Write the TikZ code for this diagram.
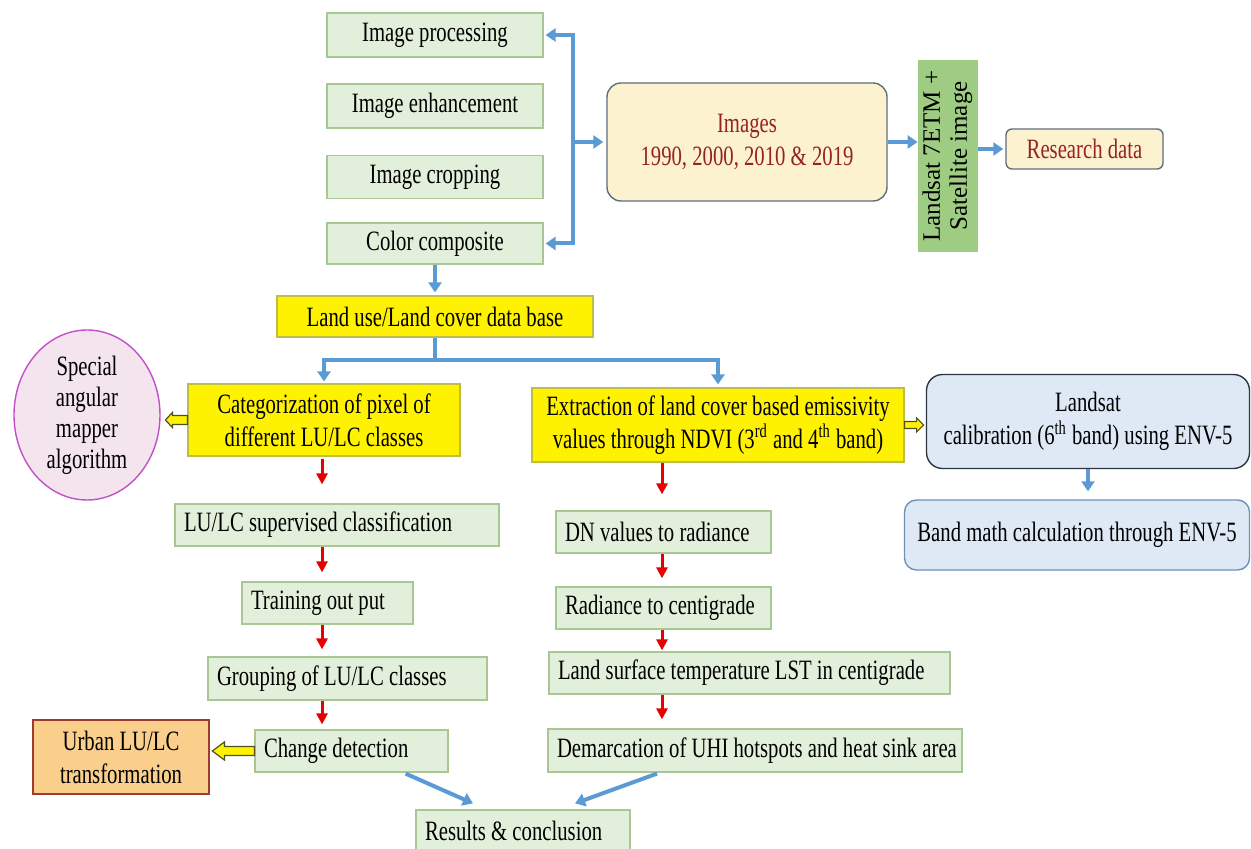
\documentclass[tikz,border=0pt]{standalone}
\usepackage{fontspec}
\setmainfont{Liberation Serif}[FakeStretch=0.74]
\newfontfamily\rotfont{Liberation Serif}
\usetikzlibrary{arrows.meta,calc,shapes.geometric}
\definecolor{gfill}{RGB}{226,239,218}
\definecolor{gline}{RGB}{169,199,148}
\definecolor{yline}{RGB}{190,190,70}
\definecolor{ifill}{RGB}{253,242,208}
\definecolor{iline}{RGB}{95,110,125}
\definecolor{dred}{RGB}{150,35,35}
\definecolor{lsgreen}{RGB}{157,204,130}
\definecolor{efill}{RGB}{243,228,238}
\definecolor{eline}{RGB}{195,80,200}
\definecolor{cfill}{RGB}{222,233,245}
\definecolor{cline}{RGB}{45,55,65}
\definecolor{bline2}{RGB}{110,145,185}
\definecolor{ofill}{RGB}{250,207,140}
\definecolor{oline}{RGB}{160,60,45}
\definecolor{bluearr}{RGB}{91,155,213}
\definecolor{redarr}{RGB}{230,0,0}
\definecolor{holline}{RGB}{80,80,30}
\newcommand{\lefttext}[2]{\makebox[#1][l]{#2}}
\tikzset{
  every node/.style={font=\fontsize{14}{16.5}\selectfont},
  gbox/.style={draw=gline, fill=gfill, line width=0.6pt, inner sep=0pt, align=center},
  lbox/.style={draw=gline, fill=gfill, line width=0.6pt, inner xsep=4.5pt, inner ysep=0pt},
  ybox/.style={draw=yline, fill=yellow, line width=0.6pt, inner sep=0pt, align=center},
  ibox/.style={draw=iline, fill=ifill, line width=0.7pt, inner sep=0pt, align=center, text=dred},
  lsbox/.style={fill=lsgreen, inner sep=0pt},
  ebox/.style={ellipse, draw=eline, fill=efill, line width=0.7pt, inner sep=0pt, align=center, font=\fontsize{14}{15.5}\selectfont},
  cbox/.style={draw=cline, fill=cfill, line width=0.7pt, inner sep=0pt, align=center},
  bbox/.style={draw=bline2, fill=cfill, line width=0.7pt, inner sep=0pt, align=center},
  obox/.style={draw=oline, fill=ofill, line width=0.8pt, inner sep=0pt, align=center},
  barrow/.style={draw=bluearr, line width=2pt, -{Triangle[length=5pt,width=6.5pt]}},
  bdbl/.style={draw=bluearr, line width=2pt, {Triangle[length=5pt,width=6.5pt]}-{Triangle[length=5pt,width=6.5pt]}},
  bline/.style={draw=bluearr, line width=2pt},
  rarrow/.style={draw=redarr, line width=1.5pt, -{Triangle[length=5.5pt,width=5.5pt]}},
  holstyle/.style={draw=holline, fill=yellow, line width=0.6pt, line join=miter},
  pics/hollowarrow/.style n args={4}{code={
    \draw[holstyle] (0,-#4) -- (-#1+#2,-#4) -- (-#1+#2,-#3) -- (-#1,0) -- (-#1+#2,#3) -- (-#1+#2,#4) -- (0,#4) -- cycle;
  }}
}
\begin{document}
\begin{tikzpicture}[x=0.5pt,y=-0.5pt]
\useasboundingbox (0,0) rectangle (1251,849);
\fill[white] (0,0) rectangle (1251,849);

% top left stack
\node[gbox, minimum width=108pt, minimum height=22pt] (ip) at (435,35) {Image processing};
\node[gbox, minimum width=108pt, minimum height=22pt] (ie) at (435,106) {Image enhancement};
\node[gbox, minimum width=108pt, minimum height=21.5pt] (ic) at (435,177) {Image cropping};
\node[gbox, minimum width=108pt, minimum height=20.5pt] (cc) at (435,243.5) {Color composite};

% images & landsat
\node[ibox, minimum width=140pt, minimum height=59pt, rounded corners=7pt] (img) at (747,142) {Images\\1990, 2000, 2010 \& 2019};
\node[lsbox, minimum width=30pt, minimum height=96pt] (ls) at (948,156)
  {\rotatebox{90}{\rotfont\fontsize{12.5}{13.5}\selectfont\begin{tabular}{@{}c@{}}Landsat 7ETM +\\Satellite image\end{tabular}}};
\node[ibox, rounded corners=3pt, minimum width=78.5pt, minimum height=20pt] (rd) at (1084.5,149) {Research data};

% land use
\node[ybox, minimum width=158pt, minimum height=20.5pt] (lu) at (435,316.5) {Land use/Land cover data base};
\node[ybox, minimum width=136pt, minimum height=36pt] (cat) at (324,420) {Categorization of pixel of\\different LU/LC classes};
\node[ebox, minimum width=73pt, minimum height=85pt] (ell) at (87,415) {Special\\angular\\mapper\\algorithm};
\node[ybox, minimum width=186pt, minimum height=37pt] (ext) at (718,425) {Extraction of land cover based emissivity\\values through NDVI (3\textsuperscript{rd} and 4\textsuperscript{th} band)};
\node[cbox, minimum width=161.5pt, minimum height=47pt, rounded corners=8pt] (cal) at (1088,421.5) {Landsat\\calibration (6\textsuperscript{th} band) using ENV-5};
\node[bbox, minimum width=172.5pt, minimum height=35pt, rounded corners=6pt] (band) at (1077,535) {Band math calculation through ENV-5};

% left column
\node[lbox, minimum height=21pt] (sup) at (337,525) {\lefttext{153pt}{LU/LC supervised classification}};
\node[lbox, minimum height=21pt] (tr) at (327.5,603) {\lefttext{76.5pt}{Training out put}};
\node[lbox, minimum height=21.5pt] (gr) at (347.5,678.5) {\lefttext{130.5pt}{Grouping of LU/LC classes}};
\node[lbox, minimum height=21pt] (ch) at (351.5,751) {\lefttext{87.5pt}{Change detection}};
\node[obox, minimum width=88pt, minimum height=37pt] (ur) at (121,757) {Urban LU/LC\\transformation};
\node[lbox, minimum height=21pt] (res) at (523,831) {\lefttext{98pt}{Results \& conclusion}};

% right column
\node[lbox, minimum height=21pt] (dn) at (663.5,532) {\lefttext{98.5pt}{DN values to radiance}};
\node[lbox, minimum height=21pt] (rad) at (663.5,608) {\lefttext{98.5pt}{Radiance to centigrade}};
\node[lbox, minimum height=21pt] (lst) at (749.5,673) {\lefttext{191.5pt}{Land surface temperature LST in centigrade}};
\node[lbox, minimum height=21.5pt] (dem) at (755,750.5) {\lefttext{198pt}{Demarcation of UHI hotspots and heat sink area}};

% blue connectors
\coordinate (bx) at (573,0);
\draw[bdbl, shorten <=1pt, shorten >=1pt] (ip.east) -- (ip.east -| bx) -- (cc.east -| bx) -- (cc.east);
\draw[barrow, shorten >=1.5pt] (bx |- img.west) -- (img.west);
\draw[barrow] (img.east) -- (img.east -| ls.west);
\draw[barrow, shorten >=1pt] (ls.east |- rd.west) -- (rd.west);
\draw[barrow, shorten >=1.5pt] (cc.south) -- (lu.north);
\coordinate (split) at (433,360);
\draw[bline] (lu.south) -- (lu.south |- split);
\draw[barrow, shorten >=1pt] (lu.south |- split) -| (cat.north);
\draw[barrow, shorten >=1.5pt] (lu.south |- split) -| (ext.north);
\draw[barrow, shorten >=4pt] (cal.south) -- (cal.south |- band.north);
\draw[barrow] ([xshift=-21.5pt,yshift=-0.5pt]ch.south east) -- ([xshift=-25pt,yshift=3pt]res.north);
\draw[barrow] ([xshift=-49pt,yshift=-0.5pt]dem.south) -- ([xshift=26pt,yshift=3pt]res.north);

% red connectors
\coordinate (lx) at (322,0);
\coordinate (rx) at (662,0);
\draw[rarrow, shorten <=1pt, shorten >=9.5pt] (cat.south -| lx) -- (sup.north -| lx);
\draw[rarrow, shorten >=4.5pt] (sup.south -| lx) -- (tr.north -| lx);
\draw[rarrow, shorten >=3.5pt] (tr.south -| lx) -- (gr.north -| lx);
\draw[rarrow, shorten >=2.5pt] (gr.south -| lx) -- (ch.north -| lx);
\draw[rarrow, shorten >=8pt] (ext.south -| rx) -- (dn.north -| rx);
\draw[rarrow, shorten >=4pt] (dn.south -| rx) -- (rad.north -| rx);
\draw[rarrow, shorten >=0.5pt] (rad.south -| rx) -- (lst.north -| rx);
\draw[rarrow, shorten >=4.5pt] (lst.south -| rx) -- (dem.north -| rx);

% hollow arrows
\pic at (cat.west) {hollowarrow={22}{7}{7.5}{4.5}};
\pic[rotate=180] at (ext.east) {hollowarrow={19}{7}{7}{3.5}};
\pic at (ch.west) {hollowarrow={42}{12}{9}{4.5}};
\end{tikzpicture}
\end{document}
